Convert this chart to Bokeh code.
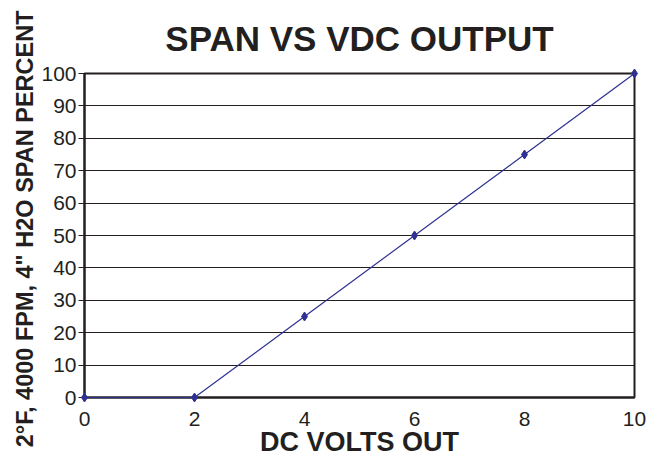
from bokeh.plotting import figure
from bokeh.models import Title, FixedTicker, Range1d
from bokeh.embed import file_html
from bokeh.resources import INLINE

volts = [0, 2, 4, 6, 8, 10]
span_pct = [0, 0, 25, 50, 75, 100]
x_ticks = [0, 2, 4, 6, 8, 10]
y_ticks = [0, 10, 20, 30, 40, 50, 60, 70, 80, 90, 100]

TXT = "#231f20"
NAVY = "#2e3192"
FONT = "Liberation Sans"

p = figure(width=652, height=466, output_backend="svg", toolbar_location=None,
           x_range=Range1d(0, 10), y_range=Range1d(0, 100),
           min_border_left=84, min_border_right=18, min_border_top=73, min_border_bottom=69)

p.title.text = "SPAN VS VDC OUTPUT"
p.title.align = "center"
p.title.offset = 3
p.title.text_font = FONT
p.title.text_font_size = "35px"
p.title.text_font_style = "bold"
p.title.text_color = TXT
p.title.standoff = 31

p.outline_line_color = TXT
p.outline_line_width = 2
p.background_fill_color = "white"
p.border_fill_color = "white"

p.xgrid.visible = False
p.ygrid.grid_line_color = TXT
p.ygrid.grid_line_width = 1
p.ygrid.ticker = FixedTicker(ticks=y_ticks)

p.xaxis.ticker = FixedTicker(ticks=x_ticks)
p.yaxis.ticker = FixedTicker(ticks=y_ticks)

for ax in (p.xaxis[0], p.yaxis[0]):
    ax.axis_line_color = TXT
    ax.axis_line_width = 2
    ax.minor_tick_line_color = None
    ax.major_label_text_font = FONT
    ax.major_label_text_font_size = "21px"
    ax.major_label_text_color = TXT

p.xaxis.major_tick_line_color = None
p.xaxis.major_tick_out = 0
p.xaxis.major_tick_in = 0
p.xaxis.major_label_standoff = 14
p.xaxis.axis_label = "DC VOLTS OUT"
p.xaxis.axis_label_text_font = FONT
p.xaxis.axis_label_text_font_size = "27px"
p.xaxis.axis_label_text_font_style = "bold"
p.xaxis.axis_label_text_color = TXT
p.xaxis.axis_label_standoff = -2

p.yaxis.major_tick_line_color = TXT
p.yaxis.major_tick_line_width = 1
p.yaxis.major_tick_out = 6
p.yaxis.major_tick_in = 0
p.yaxis.major_label_standoff = 2

p.line(volts, span_pct, line_color=NAVY, line_width=1.2, level="overlay")
p.scatter(volts, span_pct, marker="diamond", size=9, fill_color=NAVY,
          line_color=NAVY, level="overlay")

ytitle = Title(text='2°F, 4000 FPM, 4" H2O SPAN PERCENT', align="right",
               offset=-63, standoff=2, text_font=FONT, text_font_size="23.5px",
               text_font_style="bold", text_color=TXT)
p.add_layout(ytitle, "left")

open("out.html", "w").write(file_html(p, INLINE))
